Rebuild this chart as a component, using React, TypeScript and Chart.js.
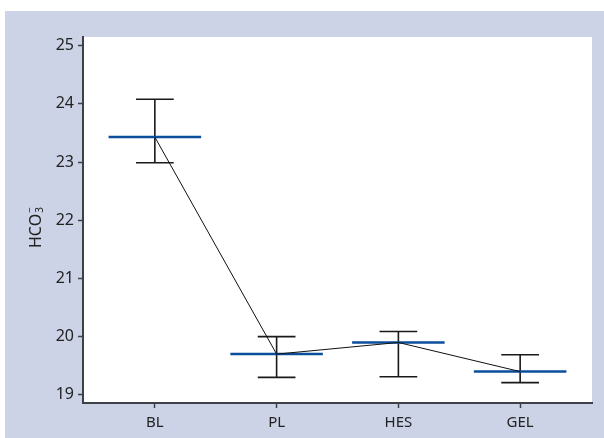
import React, { useEffect, useRef } from "react";
import { Chart, registerables } from "chart.js";

Chart.register(...registerables);

const categories = ["BL", "PL", "HES", "GEL"];
const means = [23.43, 19.7, 19.9, 19.4];
const lowers = [22.99, 19.3, 19.31, 19.21];
const uppers = [24.08, 20.0, 20.09, 19.69];
const yTicks = [19, 20, 21, 22, 23, 24, 25];

const FONT = "'Noto Sans', 'Open Sans', sans-serif";
const BG = "#cdd3e6";
const AXIS = "#3c4148";
const BLUE = "#0b4f9c";

const decorPlugin = {
  id: "decor",
  beforeDraw(chart: any) {
    const { ctx, chartArea } = chart;
    ctx.save();
    ctx.fillStyle = "#ffffff";
    ctx.fillRect(0, 0, chart.width, chart.height);
    ctx.fillStyle = BG;
    ctx.fillRect(5, 11, chart.width - 5, chart.height - 11);
    ctx.fillStyle = "#ffffff";
    ctx.fillRect(chartArea.left, chartArea.top, chartArea.right - chartArea.left, chartArea.bottom - chartArea.top);
    ctx.restore();
  },
  beforeDatasetsDraw(chart: any) {
    const { ctx, scales } = chart;
    const xs = scales.x;
    const ys = scales.y;
    ctx.save();
    ctx.strokeStyle = "#1a1a1a";
    ctx.lineWidth = 1.6;
    categories.forEach((_, i) => {
      const x = xs.getPixelForValue(i + 1);
      const capL = xs.getPixelForValue(i + 1 - 0.155);
      const capR = xs.getPixelForValue(i + 1 + 0.155);
      const yl = ys.getPixelForValue(lowers[i]);
      const yu = ys.getPixelForValue(uppers[i]);
      ctx.beginPath();
      ctx.moveTo(x, yl);
      ctx.lineTo(x, yu);
      ctx.moveTo(capL, yl);
      ctx.lineTo(capR, yl);
      ctx.moveTo(capL, yu);
      ctx.lineTo(capR, yu);
      ctx.stroke();
    });
    ctx.strokeStyle = BLUE;
    ctx.lineWidth = 2.5;
    categories.forEach((_, i) => {
      const l = xs.getPixelForValue(i + 1 - 0.38);
      const r = xs.getPixelForValue(i + 1 + 0.38);
      const y = ys.getPixelForValue(means[i]);
      ctx.beginPath();
      ctx.moveTo(l, y);
      ctx.lineTo(r, y);
      ctx.stroke();
    });
    ctx.restore();
  },
  afterDraw(chart: any) {
    const { ctx } = chart;
    ctx.save();
    ctx.translate(41, 248);
    ctx.rotate(-Math.PI / 2);
    ctx.fillStyle = "#222222";
    ctx.font = `16px ${FONT}`;
    ctx.textBaseline = "alphabetic";
    ctx.textAlign = "left";
    const main = "HCO";
    const w = ctx.measureText(main).width;
    ctx.fillText(main, 0, 0);
    ctx.font = `10px ${FONT}`;
    ctx.fillText("3", w + 1, 2);
    ctx.textBaseline = "middle";
    ctx.fillText("\u2212", w + 1, -11);
    ctx.restore();
  },
};

export default function App() {
  const ref = useRef<HTMLCanvasElement | null>(null);
  useEffect(() => {
    document.body.style.margin = "0";
    const canvas = ref.current!;
    const chart = new Chart(canvas, {
      type: "line",
      data: {
        datasets: [
          {
            data: means.map((m, i) => ({ x: i + 1, y: m })),
            borderColor: "#111111",
            borderWidth: 1,
            pointRadius: 0,
            fill: false,
            tension: 0,
          },
        ],
      },
      options: {
        animation: false,
        responsive: false,
        maintainAspectRatio: false,
        layout: { padding: { left: 0, top: 37, right: 12, bottom: 0 } },
        plugins: { legend: { display: false }, tooltip: { enabled: false } },
        scales: {
          x: {
            type: "linear",
            min: 0.41,
            max: 4.59,
            afterBuildTicks: (s: any) => {
              s.ticks = categories.map((_, i) => ({ value: i + 1 }));
            },
            afterFit: (s: any) => {
              s.height = 35;
            },
            ticks: {
              callback: (v: any) => categories[Math.round(Number(v)) - 1] ?? "",
              color: "#222222",
              font: { family: FONT, size: 15 },
              padding: 6,
              maxRotation: 0,
              autoSkip: false,
            },
            grid: { drawOnChartArea: false, drawTicks: true, tickLength: 5, tickColor: AXIS, tickWidth: 1.5 },
            border: { display: true, color: AXIS, width: 2 },
          },
          y: {
            type: "linear",
            min: 18.86,
            max: 25.15,
            afterBuildTicks: (s: any) => {
              s.ticks = yTicks.map((v) => ({ value: v }));
            },
            afterFit: (s: any) => {
              s.width = 83;
            },
            ticks: {
              callback: (v: any) => String(v),
              color: "#222222",
              font: { family: FONT, size: 16 },
              padding: 4,
            },
            grid: { drawOnChartArea: false, drawTicks: true, tickLength: 5, tickColor: AXIS, tickWidth: 1.5 },
            border: { display: true, color: AXIS, width: 2 },
          },
        },
      },
      plugins: [decorPlugin],
    });
    return () => chart.destroy();
  }, []);
  return (
    <div style={{ position: "fixed", left: 0, top: 0, width: 604, height: 438 }}>
      <canvas ref={ref} width={604} height={438} style={{ width: 604, height: 438, display: "block" }} />
    </div>
  );
}
